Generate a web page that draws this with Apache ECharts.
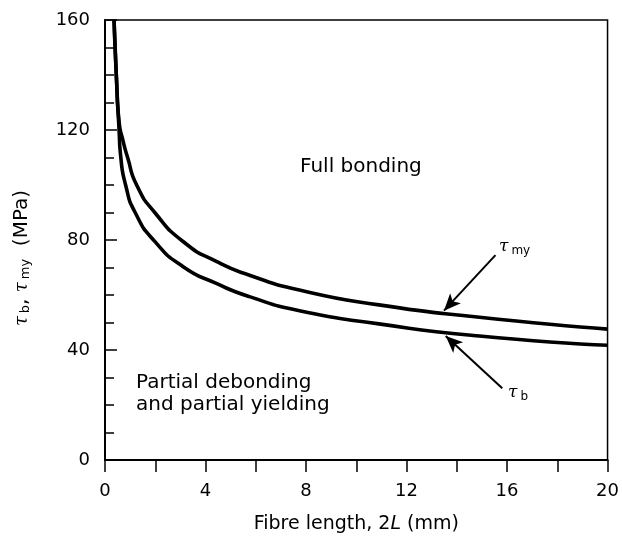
<!DOCTYPE html>
<html><head><meta charset="utf-8">
<script src="https://cdn.jsdelivr.net/npm/echarts@6/dist/echarts.min.js"></script>
<style>html,body{margin:0;padding:0;background:#fff}#c{width:622px;height:543px}</style>
</head><body><div id="c"></div>
<script>
// Fibre length 2L (mm) and interface shear stresses (MPa)
const myX = [0.36, 0.45, 0.56, 0.72, 0.90, 1.26, 1.98, 3.17, 4.43, 5.75, 7.74, 10.9, 14.9, 20];
const myY = [160, 140, 123, 116, 110, 100, 90, 79, 72.2, 67.2, 61.8, 56.4, 51.9, 47.6];
const bX = [0.36, 0.45, 0.56, 0.63, 0.82, 1.2, 1.98, 3.11, 4.43, 5.75, 7.74, 10.9, 14.9, 20];
const bY = [160, 140, 120, 110, 100, 90, 79.5, 70.3, 64.2, 59.4, 54.3, 49.5, 45.1, 41.7];
const xTicks = [0, 4, 8, 12, 16, 20];
const yTicks = [0, 40, 80, 120, 160];

const chart = echarts.init(document.getElementById('c'));
const font = 'DejaVu Sans, sans-serif';
const greek = 'DejaVu Serif, serif';
const pair = (xs, ys) => xs.map((x, i) => [x, ys[i]]);
const arrowLine = {lineStyle: {color: '#000', width: 2, type: 'solid'}};
const tauRich = {
  t: {fontSize: 17, fontFamily: greek, fontStyle: 'italic', fill: '#000'},
  s: {fontSize: 12, fontFamily: font, fill: '#000', padding: [8, 0, 0, 3]},
  n: {fontSize: 17, fontFamily: font, fill: '#000'}
};
const nameRich = {
  t: {fontSize: 18, fontFamily: greek, fontStyle: 'italic', fill: '#000'},
  s: {fontSize: 13, fontFamily: font, fill: '#000', padding: [8, 0, 0, 3]},
  n: {fontSize: 20, fontFamily: font, fill: '#000'}
};

chart.setOption({
  animation: false,
  grid: {left: 105, right: 13, top: 20, bottom: 83, show: true, borderColor: '#000', borderWidth: 1.5},
  xAxis: {
    type: 'value', min: xTicks[0], max: xTicks[xTicks.length - 1], interval: 4,
    axisLine: {lineStyle: {color: '#000', width: 2}},
    axisTick: {inside: false, length: 12, lineStyle: {color: '#000', width: 1.5}},
    minorTick: {show: true, splitNumber: 2, length: 12, lineStyle: {color: '#000', width: 1.5}},
    splitLine: {show: false},
    axisLabel: {color: '#000', fontSize: 18, fontFamily: font, margin: 22},
    name: '{n|Fibre length, 2}{i|L}{n| (mm)}', nameLocation: 'middle', nameGap: 55,
    nameTextStyle: {rich: {n: {fontSize: 19, fontFamily: font, color: '#000'}, i: {fontSize: 19, fontFamily: font, fontStyle: 'italic', color: '#000'}}}
  },
  yAxis: {
    type: 'value', min: yTicks[0], max: yTicks[yTicks.length - 1], interval: 40,
    axisLine: {show: true, lineStyle: {color: '#000', width: 2}},
    axisTick: {inside: true, length: 12, lineStyle: {color: '#000', width: 1.5}},
    minorTick: {show: true, splitNumber: 4, length: 9, lineStyle: {color: '#000', width: 1.5}},
    splitLine: {show: false},
    axisLabel: {color: '#000', fontSize: 18, fontFamily: font, margin: 15}
  },
  series: [
    {type: 'line', data: pair(myX, myY), smooth: 0.6, showSymbol: false, clip: true,
     lineStyle: {color: '#000', width: 3.6},
     markLine: {silent: true, symbol: ['none', 'arrow'], symbolSize: [11, 17], label: {show: false},
       data: [[{coord: [15.54, 74.5], ...arrowLine}, {coord: [13.49, 54.3]}]]}},
    {type: 'line', data: pair(bX, bY), smooth: 0.6, showSymbol: false, clip: true,
     lineStyle: {color: '#000', width: 3.6},
     markLine: {silent: true, symbol: ['none', 'arrow'], symbolSize: [11, 17], label: {show: false},
       data: [[{coord: [15.81, 26.1], ...arrowLine}, {coord: [13.56, 45.1]}]]}}
  ],
  graphic: [
    {type: 'text', left: 300, top: 157, style: {text: 'Full bonding', fontSize: 20, fontFamily: font, fill: '#000'}},
    {type: 'text', left: 136, top: 372, style: {text: 'Partial debonding\nand partial yielding', fontSize: 20, lineHeight: 22, fontFamily: font, fill: '#000'}},
    {type: 'text', left: 499, top: 238, style: {rich: tauRich, text: '{t|τ}{s|my}'}},
    {type: 'text', left: 508, top: 384, style: {rich: tauRich, text: '{t|τ}{s|b}'}},
    {type: 'text', x: 22, y: 258, rotation: Math.PI / 2,
     style: {rich: nameRich, text: '{t|τ}{s|b}{n|, }{t|τ}{s|my}{n|  (MPa)}', align: 'center', verticalAlign: 'middle'}}
  ]
});
</script></body></html>
